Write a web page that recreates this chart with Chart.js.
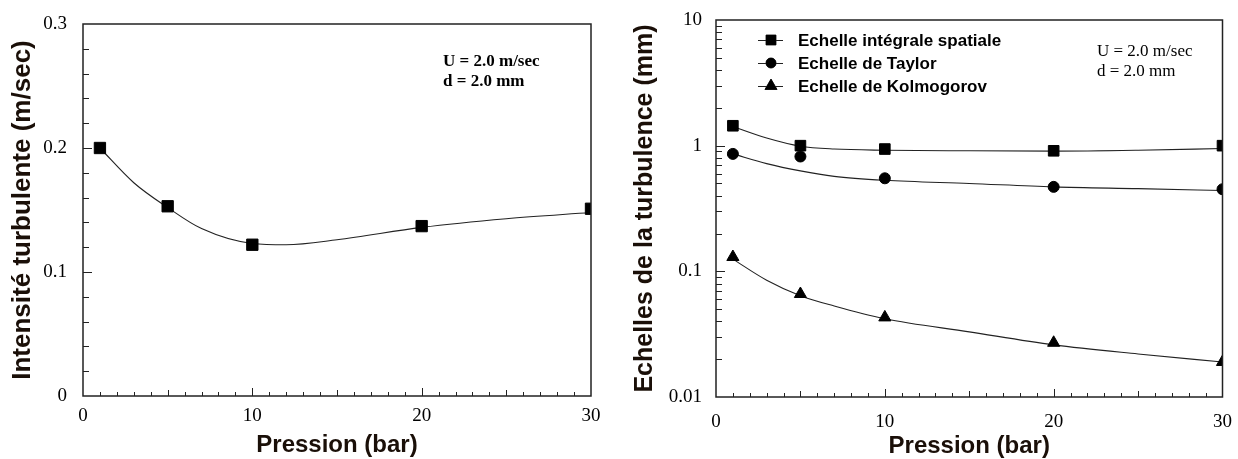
<!DOCTYPE html>
<html>
<head>
<meta charset="utf-8">
<script src="https://cdn.jsdelivr.net/npm/chart.js@4.4.1/dist/chart.umd.min.js"></script>
<style>
html, body { margin: 0; padding: 0; background: #fff; }
#wrap { position: relative; width: 1238px; height: 459px; overflow: hidden; }
.box { position: absolute; top: 0; height: 459px; }
</style>
</head>
<body>
<div id="wrap">
  <div class="box" style="left:0;width:620px"><canvas id="left" width="620" height="459"></canvas></div>
  <div class="box" style="left:620px;width:618px"><canvas id="right" width="618" height="459"></canvas></div>
</div>
<script>
'use strict';

// measured points
var pressures = [1, 5, 10, 20, 30];
var intensity = [0.200, 0.153, 0.122, 0.137, 0.151];
var integralScale = [1.44, 1.00, 0.94, 0.91, 1.00];
var taylorScale = [0.86, 0.82, 0.55, 0.47, 0.45];
var kolmogorovScale = [0.13, 0.066, 0.043, 0.027, 0.019];

// fitted curves
var intensityFitX = [1, 3, 5, 7, 10, 12, 15, 20, 25, 30];
var intensityFit = [0.200, 0.172, 0.152, 0.135, 0.123, 0.122, 0.126, 0.136, 0.143, 0.148];
var fitX = [1, 3, 5, 7, 10, 15, 20, 25, 30];
var integralFit = [1.42, 1.15, 0.99, 0.94, 0.92, 0.91, 0.905, 0.92, 0.95];
var taylorFit = [0.86, 0.72, 0.63, 0.57, 0.53, 0.50, 0.47, 0.455, 0.44];
var kolmogorovFit = [0.125, 0.085, 0.064, 0.053, 0.042, 0.033, 0.026, 0.022, 0.019];

// ticks and texts
var xTicks = [0, 10, 20, 30];
var linTicks = [0, 0.1, 0.2, 0.3];
var logTicks = [0.01, 0.1, 1, 10];
var legendLabels = ['Echelle intégrale spatiale', 'Echelle de Taylor', 'Echelle de Kolmogorov'];
var legendStyles = ['rect', 'circle', 'triangle'];
var noteLines = ['U = 2.0 m/sec', 'd = 2.0 mm'];
var xTitle = 'Pression (bar)';
var leftYTitle = 'Intensité turbulente (m/sec)';
var rightYTitle = 'Echelles de la turbulence (mm)';

var INK = '#000';
var TITLE_INK = '#1a0f08';
var SERIF = '"Liberation Serif", "Times New Roman", serif';
var SANS = '"Liberation Sans", Arial, sans-serif';

Chart.defaults.devicePixelRatio = 1;
Chart.defaults.animation = false;

function pairs(xs, ys) {
  var out = [];
  for (var i = 0; i < xs.length; i++) out.push({ x: xs[i], y: ys[i] });
  return out;
}

function fitSet(xs, ys) {
  return {
    data: pairs(xs, ys), showLine: true, borderColor: '#222', borderWidth: 1.1,
    pointRadius: 0, cubicInterpolationMode: 'monotone', fill: false, order: 2
  };
}

function pointSet(label, xs, ys, style, radius) {
  return {
    label: label, data: pairs(xs, ys), showLine: false, pointStyle: style,
    pointRadius: radius, backgroundColor: '#000', borderColor: '#000', borderWidth: 1, order: 1
  };
}

// frame, inward ticks, notes and legend
var framePlugin = {
  id: 'frame',
  afterDraw: function (chart, args, opts) {
    var ctx = chart.ctx, a = chart.chartArea;
    var xs = chart.scales.x, ys = chart.scales.y;
    ctx.save();
    ctx.strokeStyle = '#222';
    ctx.lineWidth = 1.5;
    ctx.strokeRect(a.left, a.top, a.right - a.left, a.bottom - a.top);

    ctx.lineWidth = 1;
    ctx.beginPath();
    for (var v = 1; v < 30; v++) {
      var len = v % 10 === 0 ? 8 : (v % 5 === 0 ? 6 : 4);
      var px = Math.round(xs.getPixelForValue(v)) + 0.5;
      ctx.moveTo(px, a.bottom);
      ctx.lineTo(px, a.bottom - len);
    }
    opts.yMinor.forEach(function (t) {
      var py = Math.round(ys.getPixelForValue(t)) + 0.5;
      ctx.moveTo(a.left, py);
      ctx.lineTo(a.left + 6, py);
    });
    opts.yMajor.forEach(function (t) {
      var py = Math.round(ys.getPixelForValue(t)) + 0.5;
      ctx.moveTo(a.left, py);
      ctx.lineTo(a.left + 9, py);
    });
    ctx.stroke();

    ctx.fillStyle = INK;
    ctx.textBaseline = 'middle';
    ctx.textAlign = 'left';
    ctx.font = opts.noteFont;
    noteLines.forEach(function (s, i) {
      ctx.fillText(s, a.left + opts.noteX, a.top + opts.noteY + i * opts.noteGap);
    });

    if (opts.legend) {
      ctx.font = 'bold 17px ' + SANS;
      legendLabels.forEach(function (s, i) {
        var y = a.top + 20 + i * 23;
        ctx.beginPath();
        ctx.moveTo(a.left + 42, y + 0.5);
        ctx.lineTo(a.left + 67, y + 0.5);
        ctx.stroke();
        Chart.helpers.drawPoint(ctx, { pointStyle: legendStyles[i], radius: legendStyles[i] === 'circle' ? 5 : 7, rotation: 0, borderWidth: 1 }, a.left + 55, y);
        ctx.fillStyle = '#000';
        ctx.fill();
        ctx.fillStyle = INK;
        ctx.fillText(s, a.left + 82, y + 1);
      });
    }
    ctx.restore();
  }
};

function xScale(titlePad, labelPad, h) {
  return {
    type: 'linear', min: 0, max: 30,
    afterBuildTicks: function (s) { s.ticks = xTicks.map(function (v) { return { value: v }; }); },
    ticks: { color: INK, font: { family: SERIF, size: 19 }, padding: labelPad, maxRotation: 0 },
    grid: { display: false }, border: { display: false },
    title: { display: true, text: xTitle, color: TITLE_INK, font: { family: SANS, size: 24, weight: 'bold' }, padding: { top: 0, bottom: titlePad } },
    afterFit: function (s) { s.height = h; }
  };
}

function yTitle(text, size, pad) {
  return { display: true, text: text, color: TITLE_INK, font: { family: SANS, size: size, weight: 'bold' }, padding: { top: pad, bottom: 0 } };
}

// left chart: intensity
var linMinor = [];
for (var k = 1; k < 15; k++) if (k % 5 !== 0) linMinor.push(k * 0.02);

new Chart(document.getElementById('left'), {
  type: 'scatter',
  data: {
    datasets: [
      fitSet(intensityFitX, intensityFit),
      pointSet('Intensité', pressures, intensity, 'rect', 8)
    ]
  },
  options: {
    responsive: false,
    layout: { padding: { left: 0, top: 24, right: 29, bottom: 0 } },
    plugins: {
      legend: { display: false }, tooltip: { enabled: false },
      frame: { yMinor: linMinor, yMajor: [0.1, 0.2], noteFont: 'bold 17px ' + SERIF, noteX: 360, noteY: 38, noteGap: 20, legend: false }
    },
    scales: {
      x: xScale(-1, 1, 63),
      y: {
        type: 'linear', min: 0, max: 0.3,
        afterBuildTicks: function (s) { s.ticks = linTicks.map(function (v) { return { value: v }; }); },
        ticks: { color: INK, font: { family: SERIF, size: 19 }, padding: 8 },
        grid: { display: false }, border: { display: false },
        title: yTitle(leftYTitle, 26, 7),
        afterFit: function (s) { s.width = 83; }
      }
    }
  },
  plugins: [framePlugin]
});

// right chart: turbulence scales (log)
var logMinor = [];
[0.01, 0.1, 1].forEach(function (d) {
  for (var m = 2; m <= 9; m++) logMinor.push(d * m);
});

new Chart(document.getElementById('right'), {
  type: 'scatter',
  data: {
    datasets: [
      fitSet(fitX, integralFit),
      fitSet(fitX, taylorFit),
      fitSet(fitX, kolmogorovFit),
      pointSet(legendLabels[0], pressures, integralScale, 'rect', 7.5),
      pointSet(legendLabels[1], pressures, taylorScale, 'circle', 5.5),
      pointSet(legendLabels[2], pressures, kolmogorovScale, 'triangle', 7)
    ]
  },
  options: {
    responsive: false,
    layout: { padding: { left: 0, top: 20, right: 15, bottom: 0 } },
    plugins: {
      legend: { display: false }, tooltip: { enabled: false },
      frame: { yMinor: logMinor, yMajor: [0.1, 1], noteFont: '17px ' + SERIF, noteX: 381, noteY: 32, noteGap: 20, legend: true }
    },
    scales: {
      x: xScale(-2, 6, 62),
      y: {
        type: 'logarithmic', min: 0.01, max: 10,
        afterBuildTicks: function (s) { s.ticks = logTicks.map(function (v) { return { value: v }; }); },
        ticks: {
          color: INK, font: { family: SERIF, size: 19 }, padding: 6,
          callback: function (v) { return String(v); }
        },
        grid: { display: false }, border: { display: false },
        title: yTitle(rightYTitle, 25, 10),
        afterFit: function (s) { s.width = 96; }
      }
    }
  },
  plugins: [framePlugin]
});
</script>
</body>
</html>
